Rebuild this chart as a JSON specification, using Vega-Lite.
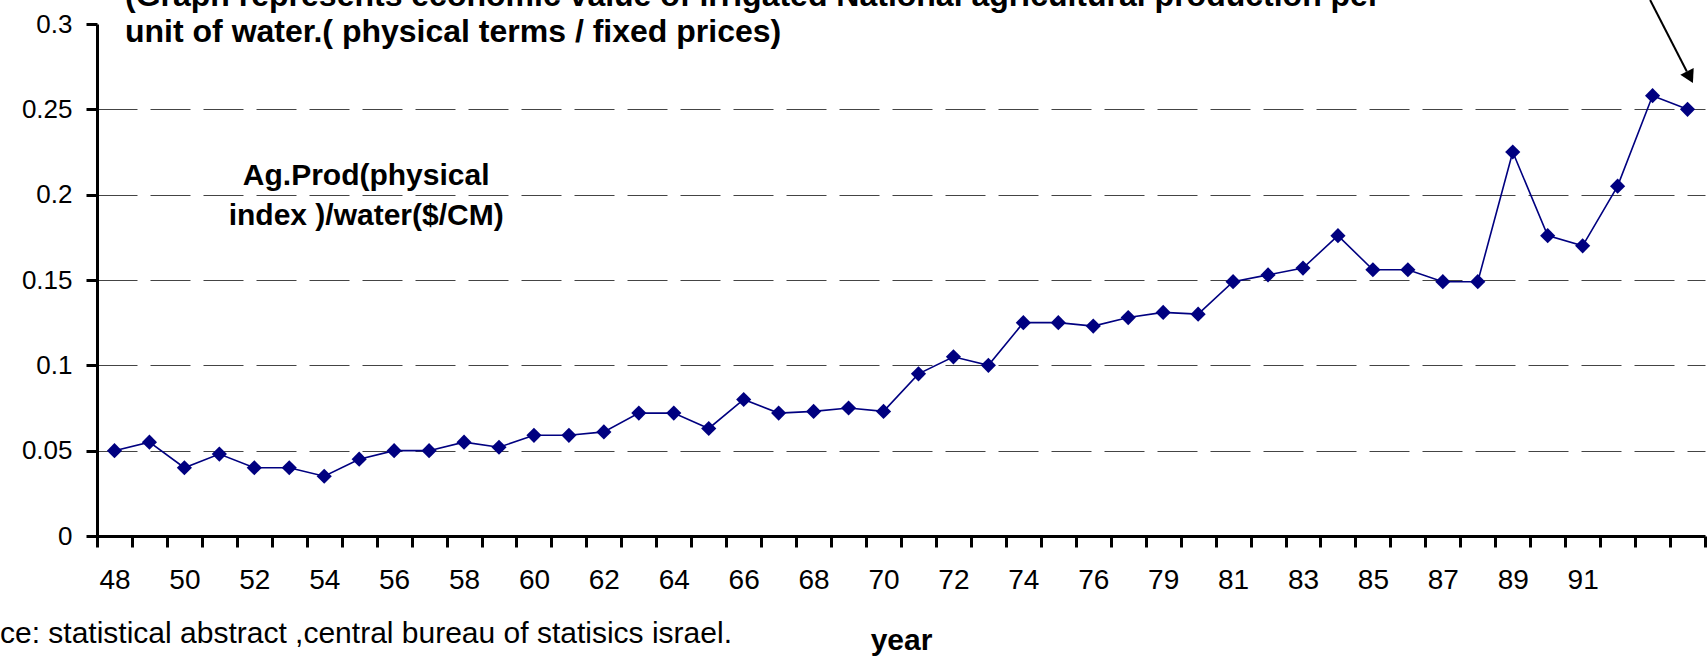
{
  "$schema": "https://vega.github.io/schema/vega-lite/v6.json",
  "width": 1608,
  "height": 512,
  "autosize": {"type": "none"},
  "padding": {"left": 97, "top": 24, "right": 3, "bottom": 121},
  "background": "white",
  "config": {
    "view": {"stroke": null},
    "font": "Liberation Sans",
    "axis": {"labelFont": "Liberation Sans", "titleFont": "Liberation Sans"}
  },
  "datasets": {
    "series": [
      {"year": "48", "value": 0.050}, {"year": "49", "value": 0.055}, {"year": "50", "value": 0.040},
      {"year": "51", "value": 0.048}, {"year": "52", "value": 0.040}, {"year": "53", "value": 0.040},
      {"year": "54", "value": 0.035}, {"year": "55", "value": 0.045}, {"year": "56", "value": 0.050},
      {"year": "57", "value": 0.050}, {"year": "58", "value": 0.055}, {"year": "59", "value": 0.052},
      {"year": "60", "value": 0.059}, {"year": "61", "value": 0.059}, {"year": "62", "value": 0.061},
      {"year": "63", "value": 0.072}, {"year": "64", "value": 0.072}, {"year": "65", "value": 0.063},
      {"year": "66", "value": 0.080}, {"year": "67", "value": 0.072}, {"year": "68", "value": 0.073},
      {"year": "69", "value": 0.075}, {"year": "70", "value": 0.073}, {"year": "71", "value": 0.095},
      {"year": "72", "value": 0.105}, {"year": "73", "value": 0.100}, {"year": "74", "value": 0.125},
      {"year": "75", "value": 0.125}, {"year": "76", "value": 0.123}, {"year": "77", "value": 0.128},
      {"year": "79", "value": 0.131}, {"year": "80", "value": 0.130}, {"year": "81", "value": 0.149},
      {"year": "82", "value": 0.153}, {"year": "83", "value": 0.157}, {"year": "84", "value": 0.176},
      {"year": "85", "value": 0.156}, {"year": "86", "value": 0.156}, {"year": "87", "value": 0.149},
      {"year": "88", "value": 0.149}, {"year": "89", "value": 0.225}, {"year": "90", "value": 0.176},
      {"year": "91", "value": 0.170}, {"year": "92", "value": 0.205}, {"year": "93", "value": 0.258},
      {"year": "94", "value": 0.250}
    ],
    "titleLines": [
      {"label": "(Graph represents economic value of irrigated National  agricultural production per", "pos": 0.301, "v": 0.3105},
      {"label": "unit of water.( physical terms / fixed prices)", "pos": 0.301, "v": 0.2895}
    ],
    "note": [
      {"label": "Ag.Prod(physical", "pos": 7.2, "v": 0.2109},
      {"label": "index )/water($/CM)", "pos": 7.2, "v": 0.1875}
    ],
    "source": [
      {"label": "ce: statistical abstract ,central bureau of statisics israel.", "pos": -3.275, "v": -0.0627}
    ],
    "arrowLine": [
      {"pos": 43.93, "v": 0.3141, "pos2": 44.98, "v2": 0.2722}
    ],
    "arrowHead": [
      {"pos": 45.07, "v": 0.2688}
    ]
  },
  "layer": [
    {
      "data": {"name": "series"},
      "layer": [
        {
          "mark": {"type": "line", "color": "#000080", "strokeWidth": 1.6},
          "encoding": {
            "x": {
              "field": "year", "type": "ordinal", "sort": null, "bandPosition": 0.5,
              "scale": {"type": "band", "paddingInner": 0, "paddingOuter": 0},
              "axis": {
                "title": "year", "titleFontSize": 30, "titleFontWeight": "bold", "titleColor": "black", "titlePadding": 31,
                "labelAngle": 0, "labelFontSize": 28, "labelColor": "black", "labelPadding": 19, "labelOverlap": false,
                "labelExpr": "indexof(['48','50','52','54','56','58','60','62','64','66','68','70','72','74','76','79','81','83','85','87','89','91'], datum.value) >= 0 ? datum.value : ''",
                "tickBand": "extent", "tickColor": "black", "tickWidth": 3, "tickSize": 11,
                "domainColor": "black", "domainWidth": 3, "grid": false
              }
            },
            "y": {
              "field": "value", "type": "quantitative",
              "scale": {"domain": [0, 0.3], "nice": false, "zero": true},
              "axis": {
                "title": null, "values": [0, 0.05, 0.1, 0.15, 0.2, 0.25, 0.3], "format": ".2~f",
                "labelFontSize": 26, "labelColor": "black", "labelPadding": 14,
                "tickColor": "black", "tickWidth": 3, "tickSize": 11,
                "domainColor": "black", "domainWidth": 3,
                "grid": true, "gridColor": "#444444", "gridWidth": 1, "gridDash": [40, 13],
                "gridOpacity": {"condition": {"test": "datum.value > 0.29 || datum.value < 0.01", "value": 0}, "value": 1}
              }
            }
          }
        },
        {
          "mark": {"type": "point", "shape": "diamond", "filled": true, "size": 230, "color": "#000080", "opacity": 1},
          "encoding": {
            "x": {"field": "year", "type": "ordinal", "sort": null, "bandPosition": 0.5},
            "y": {"field": "value", "type": "quantitative"}
          }
        }
      ]
    },
    {
      "data": {"name": "titleLines"},
      "mark": {"type": "text", "align": "left", "baseline": "alphabetic", "fontSize": 32, "fontWeight": "bold", "color": "black"},
      "encoding": {
        "x": {"field": "pos", "type": "quantitative", "scale": {"domain": [-0.5, 45.5], "nice": false, "zero": false}, "axis": null},
        "y": {"field": "v", "type": "quantitative"},
        "text": {"field": "label"}
      }
    },
    {
      "data": {"name": "note"},
      "mark": {"type": "text", "align": "center", "baseline": "middle", "fontSize": 30, "fontWeight": "bold", "color": "black"},
      "encoding": {
        "x": {"field": "pos", "type": "quantitative", "scale": {"domain": [-0.5, 45.5], "nice": false, "zero": false}, "axis": null},
        "y": {"field": "v", "type": "quantitative"},
        "text": {"field": "label"}
      }
    },
    {
      "data": {"name": "source"},
      "mark": {"type": "text", "align": "left", "baseline": "alphabetic", "fontSize": 30, "color": "black"},
      "encoding": {
        "x": {"field": "pos", "type": "quantitative", "scale": {"domain": [-0.5, 45.5], "nice": false, "zero": false}, "axis": null},
        "y": {"field": "v", "type": "quantitative"},
        "text": {"field": "label"}
      }
    },
    {
      "data": {"name": "arrowLine"},
      "mark": {"type": "rule", "color": "black", "strokeWidth": 2},
      "encoding": {
        "x": {"field": "pos", "type": "quantitative", "scale": {"domain": [-0.5, 45.5], "nice": false, "zero": false}, "axis": null},
        "x2": {"field": "pos2"},
        "y": {"field": "v", "type": "quantitative"},
        "y2": {"field": "v2"}
      }
    },
    {
      "data": {"name": "arrowHead"},
      "mark": {"type": "point", "shape": "triangle-down", "filled": true, "size": 225, "color": "black", "opacity": 1, "angle": 333},
      "encoding": {
        "x": {"field": "pos", "type": "quantitative", "scale": {"domain": [-0.5, 45.5], "nice": false, "zero": false}, "axis": null},
        "y": {"field": "v", "type": "quantitative"}
      }
    }
  ],
  "resolve": {"scale": {"x": "independent"}, "axis": {"x": "independent"}}
}
